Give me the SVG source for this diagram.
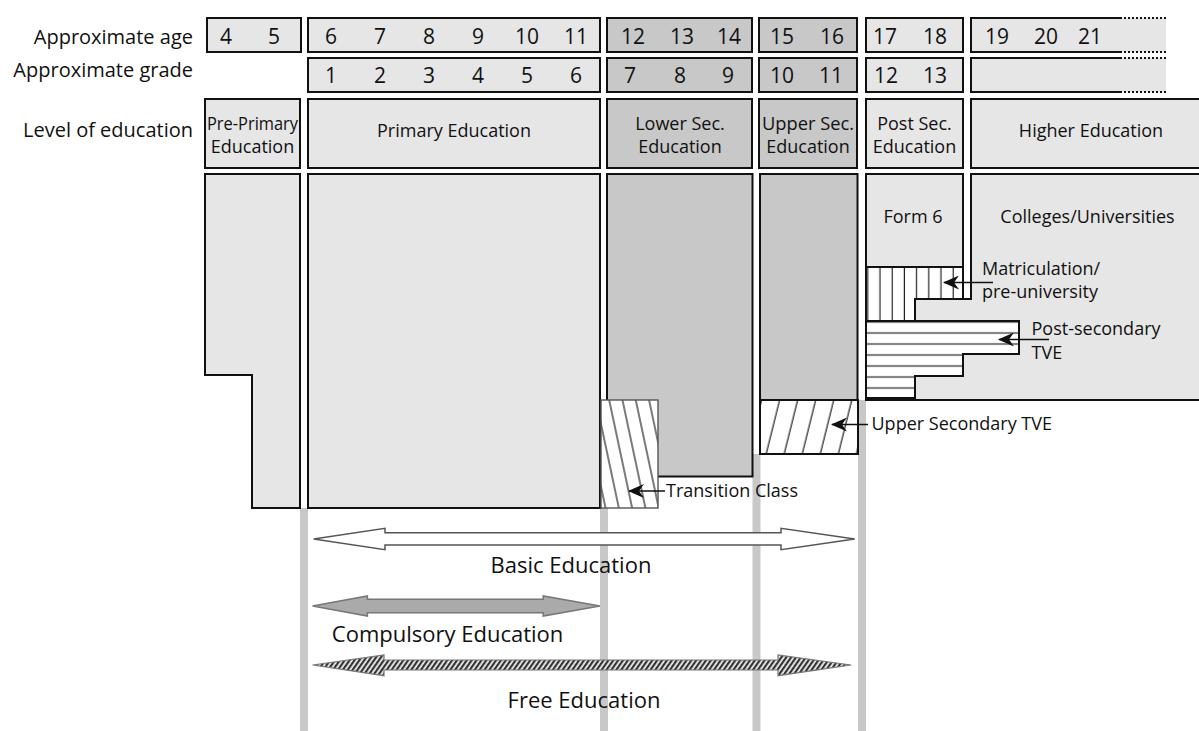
<svg xmlns="http://www.w3.org/2000/svg" width="1199" height="731" viewBox="0 0 1199 731">
<style>
text{font-family:"Open Sans","Noto Sans","DejaVu Sans",sans-serif;fill:#111}
.lbl{font-size:20px;text-anchor:end}
.num{font-size:21px;text-anchor:middle}
.box{font-size:18px;text-anchor:middle}
.note{font-size:18px}
.big{font-size:22px;text-anchor:middle}
.lt{fill:#e6e6e6;stroke:#111;stroke-width:2}
.dk{fill:#c8c8c8;stroke:#111;stroke-width:2}
.bar{fill:#c8c8c8}
.lead{stroke:#111;stroke-width:1.6;fill:none}
.dot{stroke:#111;stroke-width:2;stroke-dasharray:2 2;fill:none}
.edge{stroke:#111;stroke-width:2;fill:none}
</style>
<defs>
<pattern id="hTrans" patternUnits="userSpaceOnUse" x="601" y="400" width="13" height="40" patternTransform="rotate(-12 601 400)"><rect width="13" height="40" fill="#fff"/><line x1="8" y1="0" x2="8" y2="40" stroke="#222" stroke-width="1.2"/></pattern>
<pattern id="hUtve" patternUnits="userSpaceOnUse" x="760" y="454" width="17.5" height="40" patternTransform="rotate(14 760 454)"><rect width="17.5" height="40" fill="#fff"/><line x1="6" y1="0" x2="6" y2="40" stroke="#222" stroke-width="1.2"/></pattern>
<pattern id="hMat" patternUnits="userSpaceOnUse" x="874" y="0" width="12.2" height="20"><rect width="12.2" height="20" fill="#fff"/><line x1="6" y1="0" x2="6" y2="20" stroke="#222" stroke-width="1.2"/></pattern>
<pattern id="hTve" patternUnits="userSpaceOnUse" x="0" y="327.5" width="20" height="11"><rect width="20" height="11" fill="#fff"/><line x1="0" y1="5.5" x2="20" y2="5.5" stroke="#222" stroke-width="1.2"/></pattern>
<pattern id="stripe" patternUnits="userSpaceOnUse" width="4" height="4" patternTransform="rotate(35)"><rect width="4" height="4" fill="#eee"/><rect width="2.2" height="4" fill="#333"/></pattern>
<marker id="ah" viewBox="0 0 16 14" refX="15" refY="7" markerWidth="16" markerHeight="14" orient="auto" markerUnits="userSpaceOnUse"><path d="M16,7 L0,0 L5,7 L0,14 Z" fill="#111"/></marker>
</defs>
<rect width="1199" height="731" fill="#fff"/>

<g id="row-labels">
<text class="lbl" x="193" y="43.5">Approximate age</text>
<text class="lbl" x="193" y="77">Approximate grade</text>
<text class="lbl" x="193" y="137">Level of education</text>
</g>

<g id="guides">
<rect class="bar" x="300" y="508" width="8" height="223"/>
<rect class="bar" x="600" y="508" width="8" height="223"/>
<rect class="bar" x="752.5" y="454" width="8" height="277"/>
<rect class="bar" x="858" y="400" width="8" height="331"/>
</g>

<g id="age-row">
<rect class="lt" x="207" y="18" width="94" height="34"/>
<text class="num" x="226" y="43.5">4</text><text class="num" x="274" y="43.5">5</text>
<rect class="lt" x="308" y="18" width="292" height="34"/>
<text class="num" x="331" y="43.5">6</text><text class="num" x="380" y="43.5">7</text><text class="num" x="429" y="43.5">8</text><text class="num" x="478" y="43.5">9</text><text class="num" x="527" y="43.5">10</text><text class="num" x="576" y="43.5">11</text>
<rect class="dk" x="607" y="18" width="145" height="34"/>
<text class="num" x="633" y="43.5">12</text><text class="num" x="682" y="43.5">13</text><text class="num" x="729" y="43.5">14</text>
<rect class="dk" x="759" y="18" width="98" height="34"/>
<text class="num" x="782" y="43.5">15</text><text class="num" x="832" y="43.5">16</text>
<rect class="lt" x="866" y="18" width="97" height="34"/>
<text class="num" x="885" y="43.5">17</text><text class="num" x="935" y="43.5">18</text>
<rect x="971" y="18" width="195" height="34" fill="#e6e6e6"/>
<path class="edge" d="M1120,18 H971 V52 H1120"/>
<path class="dot" d="M1120,18 H1166 M1120,52 H1166"/>
<text class="num" x="997" y="43.5">19</text><text class="num" x="1046" y="43.5">20</text><text class="num" x="1090" y="43.5">21</text>
</g>

<g id="grade-row">
<rect class="lt" x="308" y="58" width="292" height="34"/>
<text class="num" x="331" y="83">1</text><text class="num" x="380" y="83">2</text><text class="num" x="429" y="83">3</text><text class="num" x="478" y="83">4</text><text class="num" x="527" y="83">5</text><text class="num" x="576" y="83">6</text>
<rect class="dk" x="607" y="58" width="145" height="34"/>
<text class="num" x="630" y="83">7</text><text class="num" x="680" y="83">8</text><text class="num" x="728" y="83">9</text>
<rect class="dk" x="759" y="58" width="98" height="34"/>
<text class="num" x="782" y="83">10</text><text class="num" x="831" y="83">11</text>
<rect class="lt" x="866" y="58" width="97" height="34"/>
<text class="num" x="886" y="83">12</text><text class="num" x="935" y="83">13</text>
<rect x="971" y="58" width="195" height="34" fill="#e6e6e6"/>
<path class="edge" d="M1120,58 H971 V92 H1120"/>
<path class="dot" d="M1120,58 H1166 M1120,92 H1166"/>
</g>

<g id="level-row">
<g id="lvl-preprimary"><rect class="lt" x="205" y="99" width="95" height="69"/>
<text class="box" x="252.5" y="130" textLength="91" lengthAdjust="spacingAndGlyphs">Pre-Primary</text><text class="box" x="252.5" y="153">Education</text></g>
<g id="lvl-primary"><rect class="lt" x="308" y="99" width="292" height="69"/>
<text class="box" x="454" y="137">Primary Education</text></g>
<g id="lvl-lowersec"><rect class="dk" x="607" y="99" width="145" height="69"/>
<text class="box" x="680" y="130">Lower Sec.</text><text class="box" x="680" y="153">Education</text></g>
<g id="lvl-uppersec"><rect class="dk" x="759" y="99" width="98" height="69"/>
<text class="box" x="808" y="130" textLength="92" lengthAdjust="spacingAndGlyphs">Upper Sec.</text><text class="box" x="808" y="153">Education</text></g>
<g id="lvl-postsec"><rect class="lt" x="866" y="99" width="97" height="69"/>
<text class="box" x="914.5" y="130">Post Sec.</text><text class="box" x="914.5" y="153">Education</text></g>
<g id="lvl-higher"><rect class="lt" x="971" y="99" width="250" height="69"/>
<text class="box" x="1091" y="137">Higher Education</text></g>
</g>

<g id="body-preprimary"><path class="lt" d="M205,174 H300 V508 H252 V375 H205 Z"/></g>
<g id="body-primary"><rect class="lt" x="308" y="174" width="292" height="334"/></g>
<g id="body-lowersec"><rect class="dk" x="607" y="174" width="145.5" height="302.5"/></g>
<g id="transition-class"><rect x="601" y="400" width="57" height="108" fill="url(#hTrans)" stroke="#555" stroke-width="1.4"/></g>
<g id="body-uppersec"><rect class="dk" x="760" y="174" width="97.5" height="226"/></g>
<g id="upper-sec-tve"><rect x="760" y="400" width="98" height="54" fill="url(#hUtve)" stroke="#111" stroke-width="2"/></g>
<g id="form6"><rect class="lt" x="866" y="174" width="97" height="93"/>
<text class="box" x="913" y="223">Form 6</text></g>
<g id="higher-body"><path class="lt" d="M971,174 H1221 V400 H866 V321 H915 V299 H971 Z"/>
<text class="box" x="1087.5" y="223">Colleges/Universities</text></g>
<g id="matriculation"><path d="M866,267 H963 V299 H915 V321 H866 Z" fill="url(#hMat)" stroke="#111" stroke-width="2"/></g>
<g id="post-sec-tve"><path d="M866,321 H1019 V354 H963 V376 H915 V398 H866 Z" fill="url(#hTve)" stroke="#111" stroke-width="2"/></g>
<path class="edge" d="M866,174 V400"/>

<g id="connectors">
<path class="lead" d="M993,282.5 H944" marker-end="url(#ah)"/>
<path class="lead" d="M1049,339.5 H999" marker-end="url(#ah)"/>
<path class="lead" d="M868,424.5 H832" marker-end="url(#ah)"/>
<path class="lead" d="M665,491 H629" marker-end="url(#ah)"/>
<polygon points="313.7,539 385,528.3 385,532.7 781,532.7 781,528.3 854.7,539 781,549.7 781,545 385,545 385,549.7" fill="#fff" stroke="#555" stroke-width="1.5"/>
<polygon points="312.6,606 367.4,596 367.4,599.3 543.2,599.3 543.2,596 600,606 543.2,616 543.2,612.7 367.4,612.7 367.4,616" fill="#aaa" stroke="#777" stroke-width="1.5"/>
<polygon points="312.6,665 384,655 384,660 778,660 778,655 851,665 778,675.7 778,670 384,670 384,675.7" fill="url(#stripe)" stroke="#777" stroke-width="1.2"/>
</g>

<g id="notes">
<text class="note" x="982" y="275">Matriculation/</text>
<text class="note" x="982" y="298">pre-university</text>
<text class="note" x="1031.5" y="335">Post-secondary</text>
<text class="note" x="1031.5" y="359">TVE</text>
<text class="note" x="871.5" y="430">Upper Secondary TVE</text>
<text class="note" x="666" y="497">Transition Class</text>
<text class="big" x="571" y="573">Basic Education</text>
<text class="big" x="447.6" y="642">Compulsory Education</text>
<text class="big" x="584" y="708">Free Education</text>
</g>
</svg>
